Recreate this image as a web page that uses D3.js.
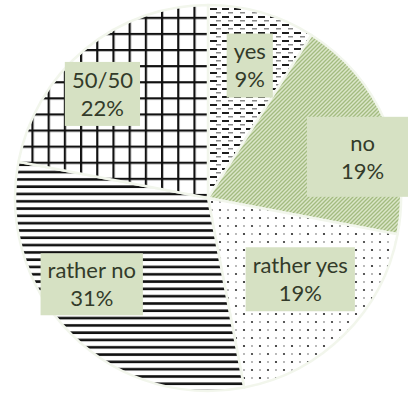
<!DOCTYPE html>
<html>
<head>
<meta charset="utf-8">
<script src="https://cdn.jsdelivr.net/npm/d3@7/dist/d3.min.js"></script>
<style>
  html, body { margin: 0; padding: 0; background: #fff; }
  svg { display: block; }
</style>
</head>
<body>
<svg id="chart" width="408" height="396"></svg>
<script>
// Survey answers, clockwise from 12 o'clock
const categories = ["yes", "no", "rather yes", "rather no", "50/50"];
const shares = [9, 19, 19, 31, 22];               // percent
const percentLabels = ["9%", "19%", "19%", "31%", "22%"];

// Layout
const W = 408, H = 396;
const cx = 208, cy = 198, R = 193;
const labelRadius = R * 0.72;
// fine offsets of each label box from its slice centroid
const labelNudge = [[3, 1], [27, 14], [-6, -17], [-18, -12], [-17, 3]];
const boxPad = [[7, 6], [34, 14], [7, 6], [7, 5], [7, 6]];
const fillIds = ["pYes", "pNo", "pRatherYes", "pRatherNo", "pFifty"];

const svg = d3.select("#chart");
const defs = svg.append("defs");

// dashed horizontal
const pYes = defs.append("pattern").attr("id", "pYes")
  .attr("patternUnits", "userSpaceOnUse").attr("width", 12).attr("height", 8)
  .attr("x", 1).attr("y", 2);
pYes.append("rect").attr("width", 12).attr("height", 8).attr("fill", "#fff");
pYes.append("rect").attr("x", 1).attr("y", 0).attr("width", 7).attr("height", 2).attr("fill", "#1e1e1e");
pYes.append("rect").attr("x", 7).attr("y", 4).attr("width", 6).attr("height", 1.5).attr("fill", "#8a8a8a");

// light green with fine diagonal hatching
const pNo = defs.append("pattern").attr("id", "pNo")
  .attr("patternUnits", "userSpaceOnUse").attr("width", 4).attr("height", 4);
pNo.append("rect").attr("width", 4).attr("height", 4).attr("fill", "#dbe6c8");
pNo.append("path").attr("d", "M-1,1 L1,-1 M0,4 L4,0 M3,5 L5,3")
  .attr("stroke", "#a3bb80").attr("stroke-width", 1.3);

// small dots
const pRY = defs.append("pattern").attr("id", "pRatherYes")
  .attr("patternUnits", "userSpaceOnUse").attr("width", 16).attr("height", 16);
pRY.append("rect").attr("width", 16).attr("height", 16).attr("fill", "#fff");
pRY.append("circle").attr("cx", 4).attr("cy", 4).attr("r", 1.1).attr("fill", "#222");
pRY.append("circle").attr("cx", 12).attr("cy", 12).attr("r", 1.1).attr("fill", "#333");
pRY.append("circle").attr("cx", 12).attr("cy", 4).attr("r", 0.9).attr("fill", "#999");
pRY.append("circle").attr("cx", 4).attr("cy", 12).attr("r", 0.9).attr("fill", "#999");

// horizontal lines
const pRN = defs.append("pattern").attr("id", "pRatherNo")
  .attr("patternUnits", "userSpaceOnUse").attr("width", 10).attr("height", 7.3);
pRN.append("rect").attr("width", 10).attr("height", 7.3).attr("fill", "#fff");
pRN.append("rect").attr("y", 2).attr("width", 10).attr("height", 2.6).attr("fill", "#111");

// square grid
const pF = defs.append("pattern").attr("id", "pFifty")
  .attr("patternUnits", "userSpaceOnUse").attr("width", 16.2).attr("height", 16.1)
  .attr("x", 1.6).attr("y", 12);
pF.append("rect").attr("width", 16.2).attr("height", 16.1).attr("fill", "#fff");
pF.append("rect").attr("x", 0).attr("y", 0).attr("width", 2.2).attr("height", 16.1).attr("fill", "#111");
pF.append("rect").attr("x", 0).attr("y", 0).attr("width", 16.2).attr("height", 2.2).attr("fill", "#111");

const data = categories.map((c, i) => ({ cat: c, value: shares[i], pct: percentLabels[i], i }));

const pie = d3.pie().value(d => d.value).sort(null);
const arcs = pie(data);
const arc = d3.arc().innerRadius(0).outerRadius(R);
const labelArc = d3.arc().innerRadius(labelRadius).outerRadius(labelRadius);

const g = svg.append("g").attr("transform", `translate(${cx},${cy})`);

g.selectAll("path.slice")
  .data(arcs)
  .join("path")
  .attr("class", "slice")
  .attr("d", arc)
  .attr("fill", d => `url(#${fillIds[d.data.i]})`)
  .attr("stroke", "#f2f6ec")
  .attr("stroke-width", 2.5)
  .attr("stroke-linejoin", "round");

const fontSize = 22, lineH = 28;
const labels = g.selectAll("g.lbl")
  .data(arcs)
  .join("g")
  .attr("class", "lbl")
  .attr("transform", d => {
    const [x, y] = labelArc.centroid(d);
    const n = labelNudge[d.data.i];
    return `translate(${x + n[0]},${y + n[1]})`;
  });

labels.each(function (d) {
  const sel = d3.select(this);
  const rect = sel.append("rect").attr("fill", "#d6e1c3");
  const t = sel.append("text")
    .attr("text-anchor", "middle")
    .attr("font-family", "Lato, 'Open Sans', sans-serif")
    .attr("font-size", fontSize)
    .attr("fill", "#333b2a");
  t.append("tspan").attr("x", 0).attr("y", -lineH / 2).attr("dy", "0.35em").text(d.data.cat);
  t.append("tspan").attr("x", 0).attr("y", lineH / 2).attr("dy", "0.35em").text(d.data.pct);
  const bb = t.node().getBBox();
  const p = boxPad[d.data.i];
  rect.attr("x", -bb.width / 2 - p[0]).attr("y", -lineH - p[1] + 2)
    .attr("width", bb.width + 2 * p[0]).attr("height", 2 * lineH + 2 * p[1] - 4);
});
</script>
</body>
</html>
